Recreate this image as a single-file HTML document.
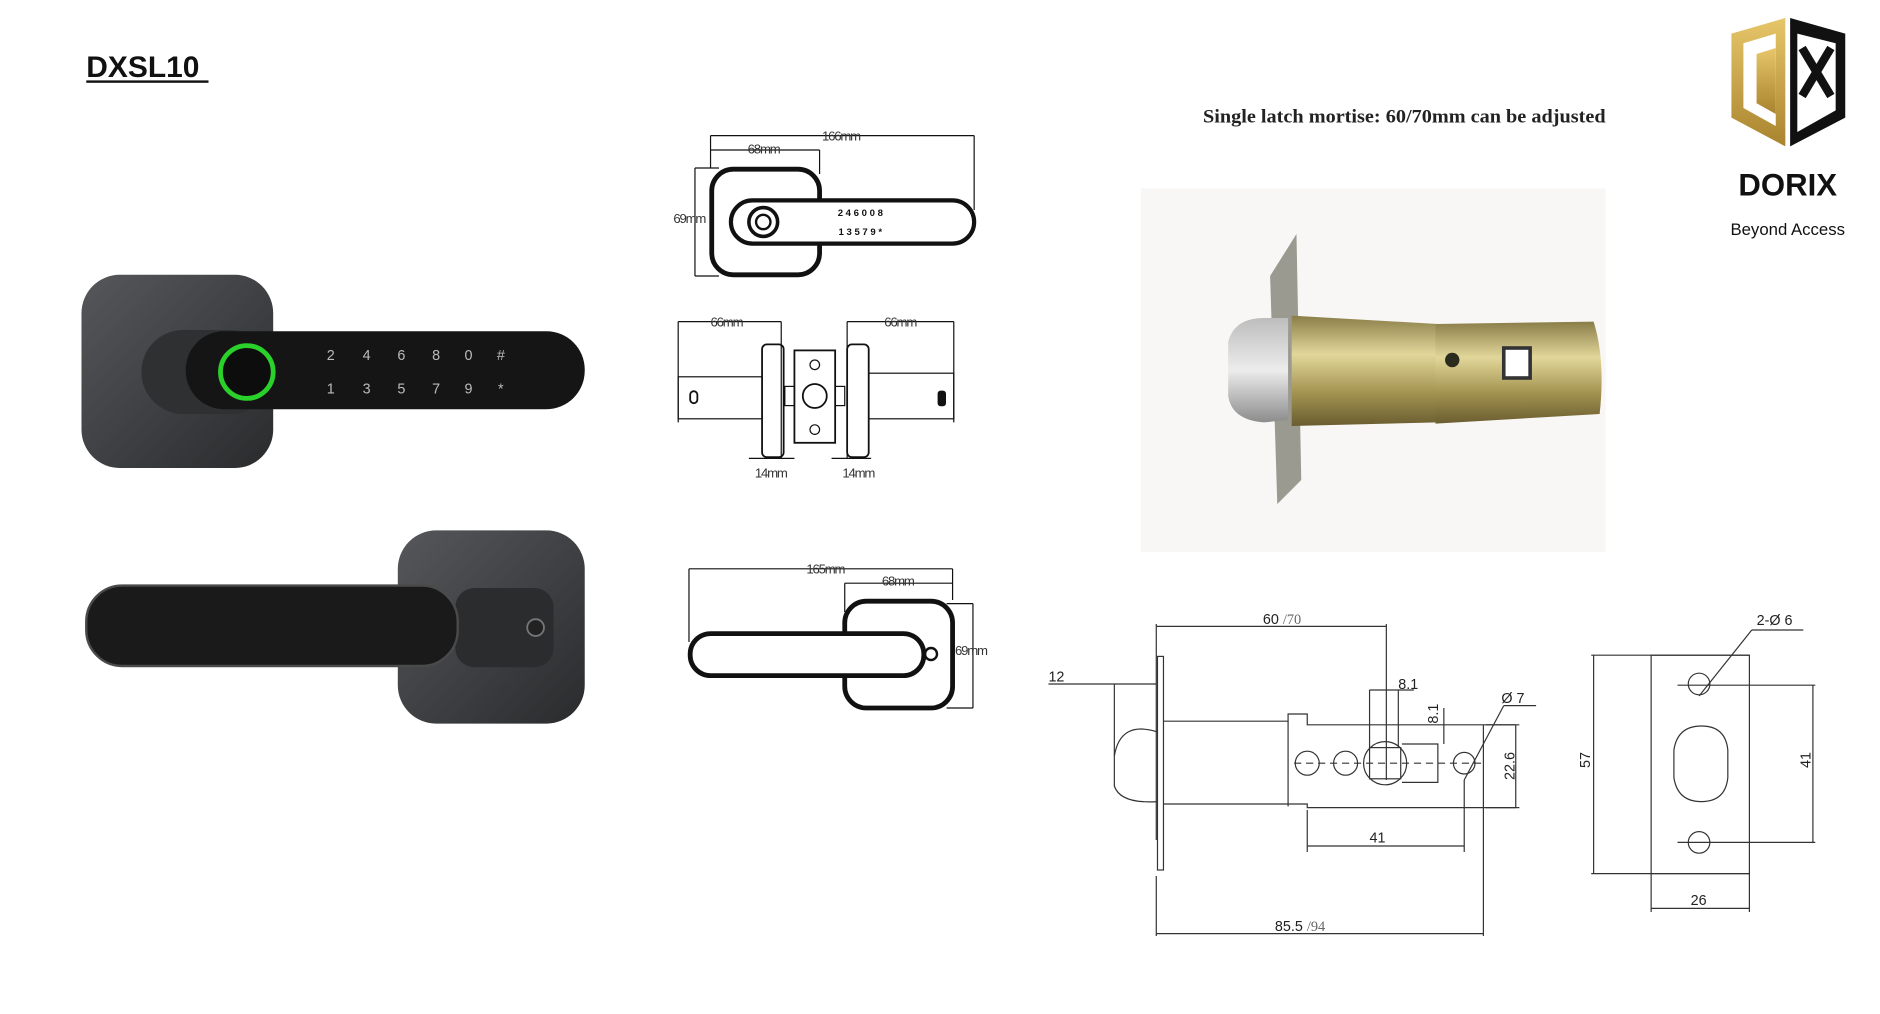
<!DOCTYPE html>
<html><head><meta charset="utf-8"><style>
html,body{margin:0;padding:0;background:#fff;width:1880px;height:1014px;overflow:hidden}
svg{display:block}
</style></head><body>
<svg width="1880" height="1014" viewBox="0 0 1569 845" preserveAspectRatio="none" xmlns="http://www.w3.org/2000/svg" font-family="Liberation Sans, sans-serif">
<defs>
<linearGradient id="plate" x1="0" y1="0" x2="1" y2="1"><stop offset="0" stop-color="#55575a"/><stop offset="1" stop-color="#2a2b2d"/></linearGradient>
<linearGradient id="brass" x1="0" y1="0" x2="0" y2="1"><stop offset="0" stop-color="#8a7d48"/><stop offset=".35" stop-color="#e2d79a"/><stop offset=".7" stop-color="#a39350"/><stop offset="1" stop-color="#6a5d30"/></linearGradient>
<linearGradient id="steel" x1="0" y1="0" x2="0" y2="1"><stop offset="0" stop-color="#bdbdbd"/><stop offset=".5" stop-color="#ececec"/><stop offset="1" stop-color="#8c8c8c"/></linearGradient>
<linearGradient id="gold" x1="0" y1="0" x2="0" y2="1"><stop offset="0" stop-color="#e7c66a"/><stop offset="1" stop-color="#a8842e"/></linearGradient>
</defs>

<text x="72" y="64" font-size="25" font-weight="bold" fill="#111">DXSL10</text>
<rect x="72" y="67" width="102" height="2" fill="#111"/>

<!-- logo -->
<path d="M1445 28 L1490 15 L1490 122 L1445 98 Z" fill="url(#gold)"/>
<path d="M1455 36 L1482 28 L1482 105 L1455 90 Z" fill="#fff"/>
<path d="M1466 45 L1482 40 L1482 95 L1466 86 Z" fill="url(#gold)"/>
<path d="M1494 15 L1540 28 L1540 98 L1494 122 Z" fill="#111"/>
<path d="M1500 28 L1532 36 L1532 92 L1500 110 Z" fill="#fff"/>
<path d="M1504 40 L1528 80 M1528 40 L1504 80" stroke="#111" stroke-width="7"/>
<text x="1492" y="163" font-size="26" font-weight="bold" text-anchor="middle" fill="#111">DORIX</text>
<text x="1492" y="196" font-size="14" text-anchor="middle" fill="#111">Beyond Access</text>

<!-- product photo 1 -->
<rect x="68" y="229" width="160" height="161" rx="32" fill="url(#plate)"/>
<rect x="118" y="275" width="110" height="70" rx="35" fill="#2f3032"/>
<rect x="155" y="276" width="333" height="65" rx="32" fill="#151515"/>
<circle cx="206" cy="310" r="22" fill="#0d0d0d" stroke="#2bd12b" stroke-width="4"/>
<g fill="#bbb" font-size="12" text-anchor="middle">
<text x="276" y="300">2</text><text x="306" y="300">4</text><text x="335" y="300">6</text><text x="364" y="300">8</text><text x="391" y="300">0</text><text x="418" y="300">#</text>
<text x="276" y="328">1</text><text x="306" y="328">3</text><text x="335" y="328">5</text><text x="364" y="328">7</text><text x="391" y="328">9</text><text x="418" y="328">*</text>
</g>

<!-- product photo 2 -->
<rect x="332" y="442" width="156" height="161" rx="32" fill="url(#plate)"/>
<rect x="380" y="490" width="82" height="66" rx="16" fill="#2b2c2e"/>
<rect x="72" y="488" width="310" height="67" rx="30" fill="#1a1a1b" stroke="#4a4a4a" stroke-width="2"/>
<circle cx="447" cy="523" r="7" fill="#222" stroke="#777" stroke-width="1.5"/>

<!-- line drawing 1 -->
<g fill="none" stroke="#111" stroke-width="1">
<line x1="593" y1="113" x2="813" y2="113"/><line x1="593" y1="113" x2="593" y2="140"/><line x1="813" y1="113" x2="813" y2="175"/>
<line x1="593" y1="125" x2="684" y2="125"/><line x1="684" y1="125" x2="684" y2="145"/>
<line x1="580" y1="140" x2="580" y2="230"/><line x1="580" y1="140" x2="600" y2="140"/><line x1="580" y1="230" x2="600" y2="230"/>
<rect x="594" y="141" width="90" height="88" rx="18" stroke-width="4"/>
<rect x="610" y="167" width="203" height="36" rx="18" stroke-width="3.5" fill="#fff"/>
<circle cx="637" cy="185" r="12" stroke-width="3"/><circle cx="637" cy="185" r="6" stroke-width="2"/>
</g>
<g fill="#111" font-size="8" font-weight="bold" text-anchor="middle"><text x="718" y="180">2 4 6 0 0 8</text><text x="718" y="196">1 3 5 7 9 *</text></g>
<g fill="#333" font-size="11" letter-spacing="-1">
<text x="686" y="117">166mm</text><text x="624" y="128">68mm</text><text x="562" y="186">69mm</text>
</g>

<!-- line drawing 2 -->
<g fill="none" stroke="#111" stroke-width="1">
<line x1="566" y1="268" x2="652" y2="268"/><line x1="566" y1="268" x2="566" y2="352"/><line x1="652" y1="268" x2="652" y2="382"/>
<line x1="707" y1="268" x2="796" y2="268"/><line x1="707" y1="268" x2="707" y2="382"/><line x1="796" y1="268" x2="796" y2="352"/>
<rect x="566" y="314" width="70" height="35"/>
<rect x="725" y="311" width="71" height="38"/>
<rect x="636" y="287" width="18" height="94" rx="4" stroke-width="1.5"/>
<rect x="707" y="287" width="18" height="94" rx="4" stroke-width="1.5"/>
<rect x="663" y="292" width="34" height="77" stroke-width="1.5"/>
<circle cx="680" cy="304" r="4"/><circle cx="680" cy="358" r="4"/>
<circle cx="680" cy="330" r="10" stroke-width="1.5"/>
<rect x="655" y="322" width="8" height="16"/><rect x="697" y="322" width="8" height="16"/>
<rect x="576" y="326" width="6" height="10" rx="3" stroke-width="1.5"/>
<rect x="783" y="326" width="6" height="12" rx="2" fill="#111"/>
<line x1="625" y1="382" x2="663" y2="382"/><line x1="694" y1="382" x2="727" y2="382"/>
</g>
<g fill="#333" font-size="11" letter-spacing="-1">
<text x="593" y="272">66mm</text><text x="738" y="272">66mm</text><text x="630" y="398">14mm</text><text x="703" y="398">14mm</text>
</g>

<!-- line drawing 3 -->
<g fill="none" stroke="#111" stroke-width="1">
<line x1="575" y1="474" x2="795" y2="474"/><line x1="575" y1="474" x2="575" y2="535"/><line x1="795" y1="474" x2="795" y2="500"/>
<line x1="705" y1="486" x2="795" y2="486"/><line x1="705" y1="486" x2="705" y2="510"/>
<line x1="812" y1="503" x2="812" y2="590"/><line x1="790" y1="503" x2="812" y2="503"/><line x1="790" y1="590" x2="812" y2="590"/>
<rect x="705" y="501" width="90" height="89" rx="18" stroke-width="4" fill="#fff"/>
<rect x="576" y="528" width="195" height="35" rx="17" stroke-width="4" fill="#fff"/>
<circle cx="777" cy="545" r="5" stroke-width="2"/>
</g>
<g fill="#333" font-size="11" letter-spacing="-1">
<text x="673" y="478">165mm</text><text x="736" y="488">68mm</text><text x="797" y="546">69mm</text>
</g>

<!-- latch photo -->
<text x="1172" y="102" style="font-family:'Liberation Serif',serif" font-size="16" font-weight="bold" text-anchor="middle" fill="#222" textLength="336" lengthAdjust="spacingAndGlyphs">Single latch mortise: 60/70mm can be adjusted</text>
<rect x="952" y="157" width="388" height="303" fill="#f8f7f5"/>
<path d="M1060 230 L1082 195 L1086 400 L1066 420 Z" fill="#9a9a90"/>
<path d="M1025 285 Q1030 265 1055 265 L1075 265 L1075 350 L1055 352 Q1028 350 1025 330 Z" fill="url(#steel)"/>
<path d="M1078 263 L1200 270 L1200 352 L1078 355 Z" fill="url(#brass)"/>
<path d="M1198 270 L1330 268 Q1340 300 1335 345 L1198 353 Z" fill="url(#brass)"/>
<rect x="1255" y="290" width="22" height="25" fill="#fff" stroke="#333" stroke-width="3"/>
<circle cx="1212" cy="300" r="6" fill="#2b2b1e"/>

<!-- technical drawing left -->
<g fill="none" stroke="#333" stroke-width="1">
<line x1="965" y1="522" x2="1157" y2="522"/><line x1="965" y1="520" x2="965" y2="700"/><line x1="1157" y1="520" x2="1157" y2="650"/>
<rect x="966" y="547" width="5" height="178"/>
<path d="M971 601 L1075 601 L1075 595 L1091 595 L1091 604 L1265 604"/>
<path d="M971 670 L1091 670 L1091 673 L1265 673"/>
<line x1="1075" y1="601" x2="1075" y2="672"/>
<path d="M966 610 Q935 600 930 630 L930 655 Q935 670 966 668"/>
<line x1="930" y1="570" x2="965" y2="570"/><line x1="930" y1="570" x2="930" y2="630"/><line x1="875" y1="570" x2="930" y2="570"/>
<circle cx="1091" cy="636" r="10"/><circle cx="1123" cy="636" r="10"/><circle cx="1156" cy="636" r="18"/><circle cx="1222" cy="636" r="9"/>
<rect x="1143" y="623" width="26" height="26"/>
<path d="M1170 620 L1200 620 L1200 652 L1170 652"/>
<line x1="1080" y1="636" x2="1240" y2="636" stroke-dasharray="6 4"/>
<line x1="1143" y1="575" x2="1180" y2="575"/><line x1="1143" y1="575" x2="1143" y2="623"/><line x1="1167" y1="575" x2="1167" y2="623"/>
<line x1="1205" y1="590" x2="1205" y2="620"/>
<line x1="1222" y1="650" x2="1255" y2="588"/><line x1="1255" y1="588" x2="1282" y2="588"/>
<line x1="1240" y1="604" x2="1268" y2="604"/><line x1="1240" y1="673" x2="1268" y2="673"/><line x1="1265" y1="604" x2="1265" y2="673"/>
<line x1="1091" y1="675" x2="1091" y2="710"/><line x1="1222" y1="650" x2="1222" y2="710"/><line x1="1091" y1="705" x2="1222" y2="705"/>
<line x1="1238" y1="604" x2="1238" y2="780"/><line x1="965" y1="730" x2="965" y2="780"/><line x1="965" y1="778" x2="1238" y2="778"/>
</g>
<g fill="#222" font-size="12">
<text x="1054" y="520">60 <tspan fill="#666" style="font-family:'Liberation Serif',serif">/70</tspan></text>
<text x="875" y="568">12</text>
<text x="1167" y="574">8.1</text>
<text x="1200" y="603" transform="rotate(-90 1200 603)">8.1</text>
<text x="1253" y="586">Ø 7</text>
<text x="1264" y="650" transform="rotate(-90 1264 650)">22.6</text>
<text x="1143" y="702">41</text>
<text x="1064" y="776">85.5 <tspan fill="#666" style="font-family:'Liberation Serif',serif">/94</tspan></text>
</g>

<!-- technical drawing right -->
<g fill="none" stroke="#333" stroke-width="1">
<line x1="1328" y1="546" x2="1460" y2="546"/><line x1="1328" y1="728" x2="1460" y2="728"/>
<line x1="1330" y1="546" x2="1330" y2="728"/>
<rect x="1378" y="546" width="82" height="182"/>
<path d="M1397 625 Q1400 605 1420 605 Q1440 605 1442 625 L1442 648 Q1440 668 1420 668 Q1400 668 1397 648 Z"/>
<circle cx="1418" cy="570" r="9"/><circle cx="1418" cy="702" r="9"/>
<line x1="1400" y1="571" x2="1515" y2="571"/><line x1="1400" y1="702" x2="1515" y2="702"/>
<line x1="1513" y1="571" x2="1513" y2="702"/>
<line x1="1418" y1="580" x2="1462" y2="525"/><line x1="1462" y1="525" x2="1505" y2="525"/>
<line x1="1378" y1="728" x2="1378" y2="760"/><line x1="1460" y1="728" x2="1460" y2="760"/><line x1="1378" y1="757" x2="1460" y2="757"/>
</g>
<g fill="#222" font-size="12">
<text x="1466" y="521">2-Ø 6</text>
<text x="1327" y="640" transform="rotate(-90 1327 640)">57</text>
<text x="1511" y="640" transform="rotate(-90 1511 640)">41</text>
<text x="1411" y="754">26</text>
</g>
</svg>
</body></html>
